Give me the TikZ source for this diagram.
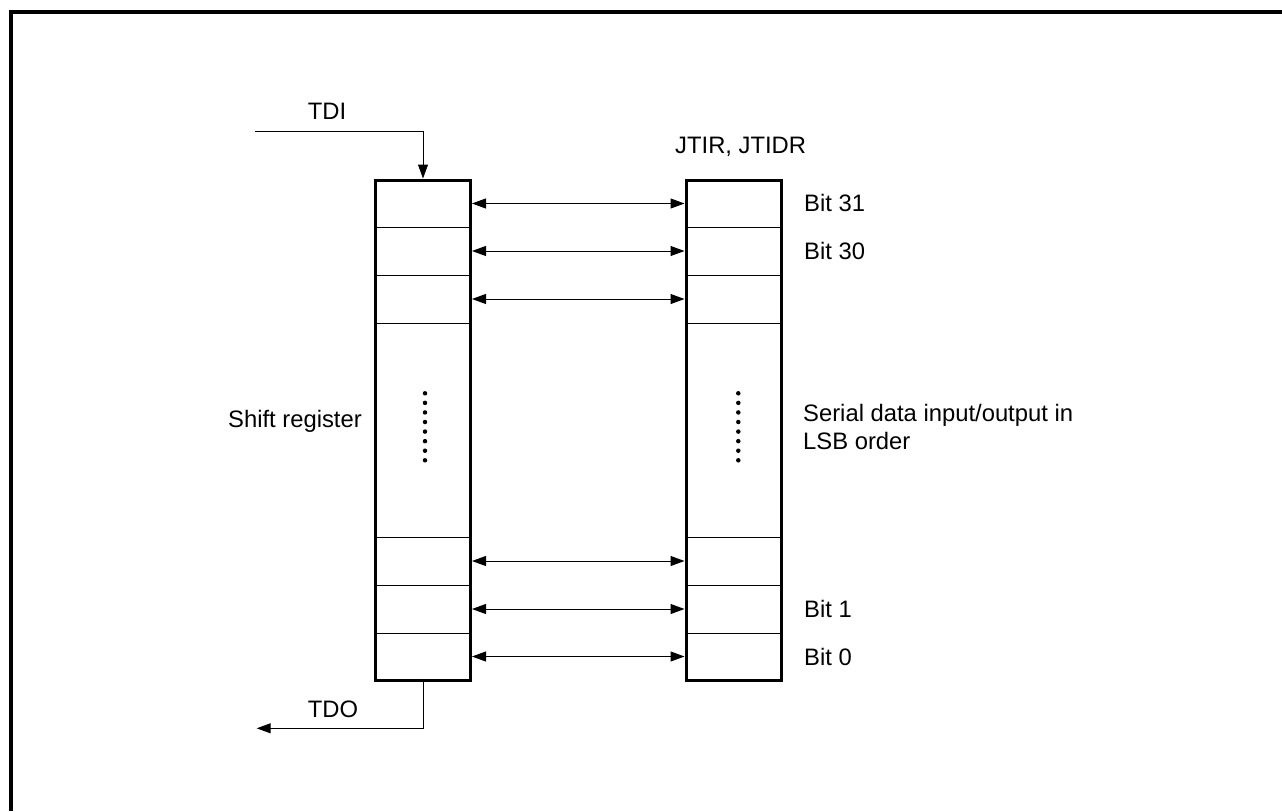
\documentclass[tikz,border=0pt]{standalone}
\usepackage{fontspec}
\setmainfont{Liberation Sans}
\usetikzlibrary{arrows.meta}
\begin{document}
\begin{tikzpicture}[x=1pt,y=-1pt,
  cell/.style={draw, line width=1pt, minimum width=95pt, inner sep=0pt, outer sep=0pt},
  regbox/.style={draw, line width=3pt},
  conn/.style={line width=1pt},
  tip/.style={-{Triangle[length=14pt,width=10pt]}},
  dtip/.style={{Triangle[length=14pt,width=10pt]}-{Triangle[length=14pt,width=10pt]}, shorten <=1.5pt, shorten >=1.5pt},
  lbl/.style={font=\fontsize{23.8}{28.6}\selectfont, inner sep=0pt},
  dot/.style={circle, fill, inner sep=0pt, minimum size=4.5pt}
]
\useasboundingbox (0,0) rectangle (1282,811);
% frame
\draw[line width=3.2pt] (11,811) -- (11,12) -- (1282,12);

% left register cells
\node[cell, minimum height=47pt] (l1) at (423,203.5) {};
\node[cell, minimum height=48pt] (l2) at (423,251) {};
\node[cell, minimum height=48pt] (l3) at (423,299) {};
\node[cell, minimum height=214pt] (lm) at (423,430) {};
\node[cell, minimum height=48pt] (l4) at (423,561) {};
\node[cell, minimum height=48pt] (l5) at (423,609) {};
\node[cell, minimum height=47pt] (l6) at (423,656.5) {};
\draw[regbox] (l1.north west) rectangle (l6.south east);

% right register cells
\node[cell, minimum height=47pt] (r1) at (733.5,203.5) {};
\node[cell, minimum height=48pt] (r2) at (733.5,251) {};
\node[cell, minimum height=48pt] (r3) at (733.5,299) {};
\node[cell, minimum height=214pt] (rm) at (733.5,430) {};
\node[cell, minimum height=48pt] (r4) at (733.5,561) {};
\node[cell, minimum height=48pt] (r5) at (733.5,609) {};
\node[cell, minimum height=47pt] (r6) at (733.5,656.5) {};
\draw[regbox] (r1.north west) rectangle (r6.south east);

% dots
\foreach \i in {0,...,7} {
  \node[dot] (ld\i) at (425,393.3+9.57*\i) {};
  \node[dot] (rd\i) at (738.3,393.3+9.57*\i) {};
}

% bidirectional arrows
\foreach \n in {1,2,3,4,5,6} {
  \draw[conn, dtip] (l\n.east) -- (r\n.west);
}

% TDI / TDO
\coordinate (tdistart) at (255,131.7);
\coordinate (tdicorner) at (l1.north |- tdistart);
\draw[conn, tip, shorten >=1.5pt] (tdistart) -- (tdicorner) -- (l1.north);
\coordinate (tdocorner) at (423,728.3);
\coordinate (tdoend) at (256.7,728.3);
\draw[conn, tip, shorten <=-1.5pt] (l6.south) -- (tdocorner) -- (tdoend);

% labels
\node[lbl] (tdi) at (327,111) {TDI};
\node[lbl] (tdo) at (333,709) {TDO};
\node[lbl, anchor=west] (jt) at (675,147) {JTIR, JTIDR};
\node[lbl, anchor=east] (sr) at (362,421) {Shift register};
\node[lbl, anchor=west] (b31) at (804,203) {Bit 31};
\node[lbl, anchor=west] (b30) at (804,251) {Bit 30};
\node[lbl, anchor=west] (b1) at (804,609) {Bit 1};
\node[lbl, anchor=west] (b0) at (804,657) {Bit 0};
\node[lbl, anchor=west, align=left] (ser) at (803,427) {Serial data input/output in\\LSB order};
\end{tikzpicture}
\end{document}
